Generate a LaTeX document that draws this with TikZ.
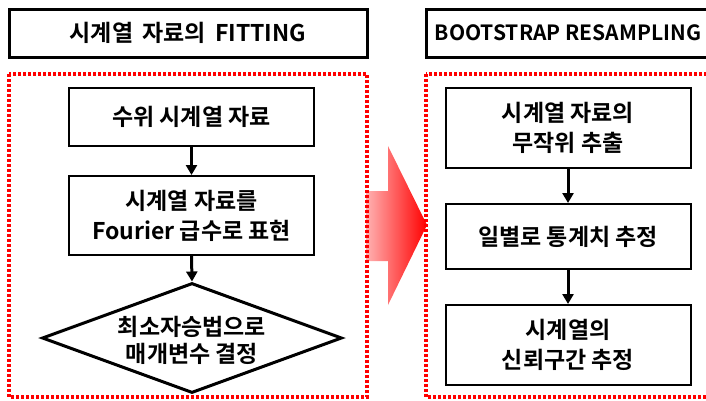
\documentclass[tikz,border=0pt]{standalone}
\usepackage{fontspec}
\setmainfont{Noto Sans CJK KR}[BoldFont={Noto Sans CJK KR Bold}]
\usetikzlibrary{shapes.geometric,arrows.meta}
\definecolor{pinkL}{RGB}{255,178,178}
\tikzset{
  txt/.style={font=\fontsize{23}{30}\selectfont\bfseries, align=center, inner sep=0pt},
  title/.style={txt, draw, line width=3pt, minimum height=48pt},
  stepbox/.style={txt, draw, line width=2pt, minimum width=245pt},
  diam/.style={draw, diamond, line width=3pt, minimum width=300pt, minimum height=110pt, inner sep=0pt},
  frame/.style={draw=red, line width=3.5pt, dash pattern=on 3pt off 2pt},
  flow/.style={line width=3pt, -{Triangle[length=10pt,width=11pt]}},
}
\begin{document}
\begin{tikzpicture}[x=1pt,y=-1pt]
\useasboundingbox (0,0) rectangle (706,400);
% big gradient arrow
\shade[left color=pinkL, right color=red]
  (366,191) -- (388,191) -- (388,146) -- (427,225) -- (388,305) -- (388,261) -- (366,261) -- cycle;
% frames
\draw[frame] (9,74) rectangle (367,397);
\draw[frame] (426,74) rectangle (716,397);
% titles
\node[title, minimum width=358pt] (t1) at (188,33) {시계열\hspace{4pt} 자료의\hspace{4pt} FITTING};
\node[title, minimum width=290pt] (t2) at (571,33) {};
\node[txt, font=\fontsize{21}{28}\selectfont\bfseries] (t2text) at (568,33) {BOOTSTRAP RESAMPLING};
% left column
\node[stepbox, minimum height=58pt] (a1) at (191.5,117) {수위 시계열 자료};
\node[stepbox, minimum height=79pt] (a2) at (191.5,215.5) {시계열 자료를\\Fourier 급수로 표현};
\node[diam] (a3) at (192,338) {};
\node[txt, font=\fontsize{23}{27}\selectfont\bfseries] (a3text) at (192,340) {최소자승법으로\\매개변수 결정};
\draw[flow] (a1.south) -- (a2.north);
\draw[flow] (a2.south) -- (a3.north);
% right column
\node[stepbox, minimum height=80pt] (b1) at (568,128) {시계열 자료의\\무작위 추출};
\node[stepbox, minimum height=65pt] (b2) at (568,236.5) {일별로 통계치 추정};
\node[stepbox, minimum height=80pt] (b3) at (568,345) {시계열의\\신뢰구간 추정};
\draw[flow] (b1.south) -- (b2.north);
\draw[flow] (b2.south) -- (b3.north);
\end{tikzpicture}
\end{document}
